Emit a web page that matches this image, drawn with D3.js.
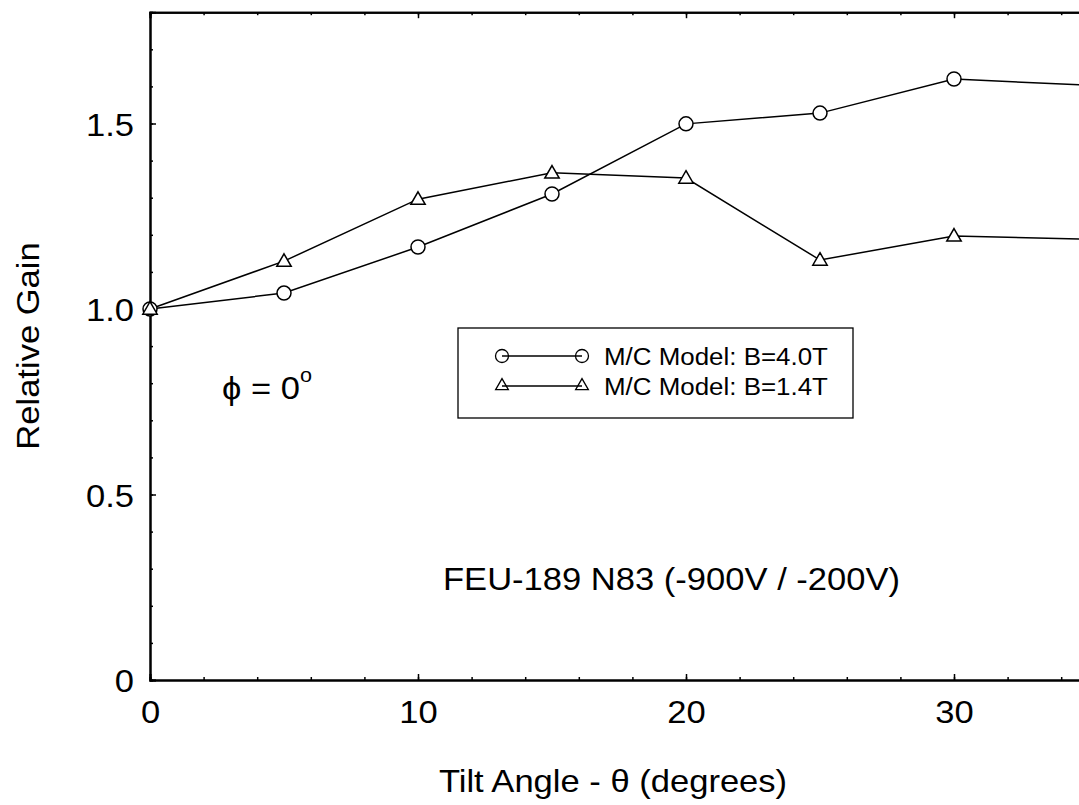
<!DOCTYPE html>
<html>
<head>
<meta charset="utf-8">
<script src="https://cdn.jsdelivr.net/npm/d3@7"></script>
<style>
  body { margin: 0; background: #fff; }
  text { font-family: "Liberation Sans", Arial, sans-serif; fill: #000; }
</style>
</head>
<body>
<div id="chart"></div>
<script>
// tilt angles (degrees)
const angles = [0, 5, 10, 15, 20, 25, 30, 35];
// relative gain, M/C model B=4.0T (circles)
const gain40 = [1.0, 1.043, 1.167, 1.31, 1.499, 1.528, 1.62, 1.603];
// relative gain, M/C model B=1.4T (triangles)
const gain14 = [1.0, 1.129, 1.296, 1.367, 1.353, 1.132, 1.197, 1.188];
const xTicks = [0, 10, 20, 30];
const yTicks = [0, 0.5, 1.0, 1.5];
const yTickLabels = ["0", "0.5", "1.0", "1.5"];
const legendLabels = ["M/C Model: B=4.0T", "M/C Model: B=1.4T"];

const width = 1079, height = 805;
const sx = 1.08; // the original lettering is a bit wide

const svg = d3.select("#chart").append("svg")
    .attr("width", width)
    .attr("height", height);

const x = d3.scaleLinear().domain([0, 35]).range([150, 1088]);
const y = d3.scaleLinear().domain([0, 1.8]).range([680, 12.2]);

// helper for stretched text
function label(tx, ty, str, size, anchor) {
    return svg.append("text")
        .attr("transform", `translate(${tx},${ty}) scale(${sx},1)`)
        .attr("text-anchor", anchor || "start")
        .style("font-size", size + "px")
        .text(str);
}

// minor ticks (inward)
const minorX = d3.range(0, 35.01, 2);
const minorY = d3.range(0, 1.801, 0.1);

svg.append("g").attr("transform", `translate(0,${y(0)})`)
    .call(d3.axisBottom(x).tickValues(minorX).tickSize(-3).tickFormat(""));
svg.append("g").attr("transform", `translate(0,${y(1.8)})`)
    .call(d3.axisTop(x).tickValues(minorX).tickSize(-3).tickFormat(""));
svg.append("g").attr("transform", `translate(${x(0)},0)`)
    .call(d3.axisLeft(y).tickValues(minorY).tickSize(-3).tickFormat(""));

// major ticks
svg.append("g").attr("class", "xaxis").attr("transform", `translate(0,${y(0)})`)
    .call(d3.axisBottom(x).tickValues(xTicks).tickSize(-6).tickFormat(d3.format("d")));
svg.append("g").attr("transform", `translate(0,${y(1.8)})`)
    .call(d3.axisTop(x).tickValues(xTicks).tickSize(-6).tickFormat(""));
svg.append("g").attr("class", "yaxis").attr("transform", `translate(${x(0)},0)`)
    .call(d3.axisLeft(y).tickValues(yTicks).tickSize(-6)
        .tickFormat((d, i) => yTickLabels[i]));

svg.selectAll(".domain").attr("stroke", "#000").attr("stroke-width", 2);
svg.selectAll(".tick line").attr("stroke", "#000").attr("stroke-width", 1.5);

svg.selectAll(".xaxis .tick text")
    .attr("y", 0).attr("dy", 0)
    .attr("transform", `translate(0,43) scale(${sx},1)`)
    .style("font-size", "32px").style("font-family", "Liberation Sans, Arial, sans-serif");
svg.selectAll(".yaxis .tick text")
    .attr("x", 0).attr("dy", "0.36em")
    .attr("transform", `translate(-16,0) scale(${sx},1)`)
    .style("font-size", "32px").style("font-family", "Liberation Sans, Arial, sans-serif");

// data lines
const line = d3.line().x((d, i) => x(angles[i])).y(d => y(d));
[gain40, gain14].forEach(s => {
    svg.append("path").datum(s)
        .attr("d", line)
        .attr("fill", "none")
        .attr("stroke", "#000")
        .attr("stroke-width", 1.5);
});

const tri = d3.symbol().type(d3.symbolTriangle).size(90);

svg.selectAll(".c40").data(gain40).enter().append("circle")
    .attr("cx", (d, i) => x(angles[i]))
    .attr("cy", d => y(d))
    .attr("r", 7)
    .attr("fill", "#fff").attr("stroke", "#000").attr("stroke-width", 1.5);

svg.selectAll(".t14").data(gain14).enter().append("path")
    .attr("d", tri)
    .attr("transform", (d, i) => `translate(${x(angles[i])},${y(d) + 1})`)
    .attr("fill", "#fff").attr("stroke", "#000").attr("stroke-width", 1.5);

// legend
svg.append("rect")
    .attr("x", 458).attr("y", 328).attr("width", 395).attr("height", 90)
    .attr("fill", "#fff").attr("stroke", "#000").attr("stroke-width", 1.3);

const legY = [356, 386];
legendLabels.forEach((t, i) => {
    svg.append("line")
        .attr("x1", 502).attr("x2", 582).attr("y1", legY[i]).attr("y2", legY[i])
        .attr("stroke", "#000").attr("stroke-width", 1.5);
    [502, 582].forEach(px => {
        if (i === 0) {
            svg.append("circle").attr("cx", px).attr("cy", legY[i]).attr("r", 6.5)
                .attr("fill", "none").attr("stroke", "#000").attr("stroke-width", 1.3);
        } else {
            svg.append("path").attr("d", d3.symbol().type(d3.symbolTriangle).size(70))
                .attr("transform", `translate(${px},${legY[i]})`)
                .attr("fill", "none").attr("stroke", "#000").attr("stroke-width", 1.3);
        }
    });
    label(604, legY[i] + 9, t, 24);
});

// annotations
const phi = label(222, 399, "", 32);
phi.append("tspan").text("\u03d5 = 0");
phi.append("tspan").attr("dy", -17).style("font-size", "20px").text("o");

label(443, 590, "FEU-189 N83 (-900V / -200V)", 32);

// axis titles
label(613, 792, "Tilt Angle - \u03b8 (degrees)", 32, "middle");
svg.append("text")
    .attr("transform", `translate(39,346) rotate(-90) scale(${sx},1)`)
    .attr("text-anchor", "middle")
    .style("font-size", "32px")
    .text("Relative Gain");
</script>
</body>
</html>
